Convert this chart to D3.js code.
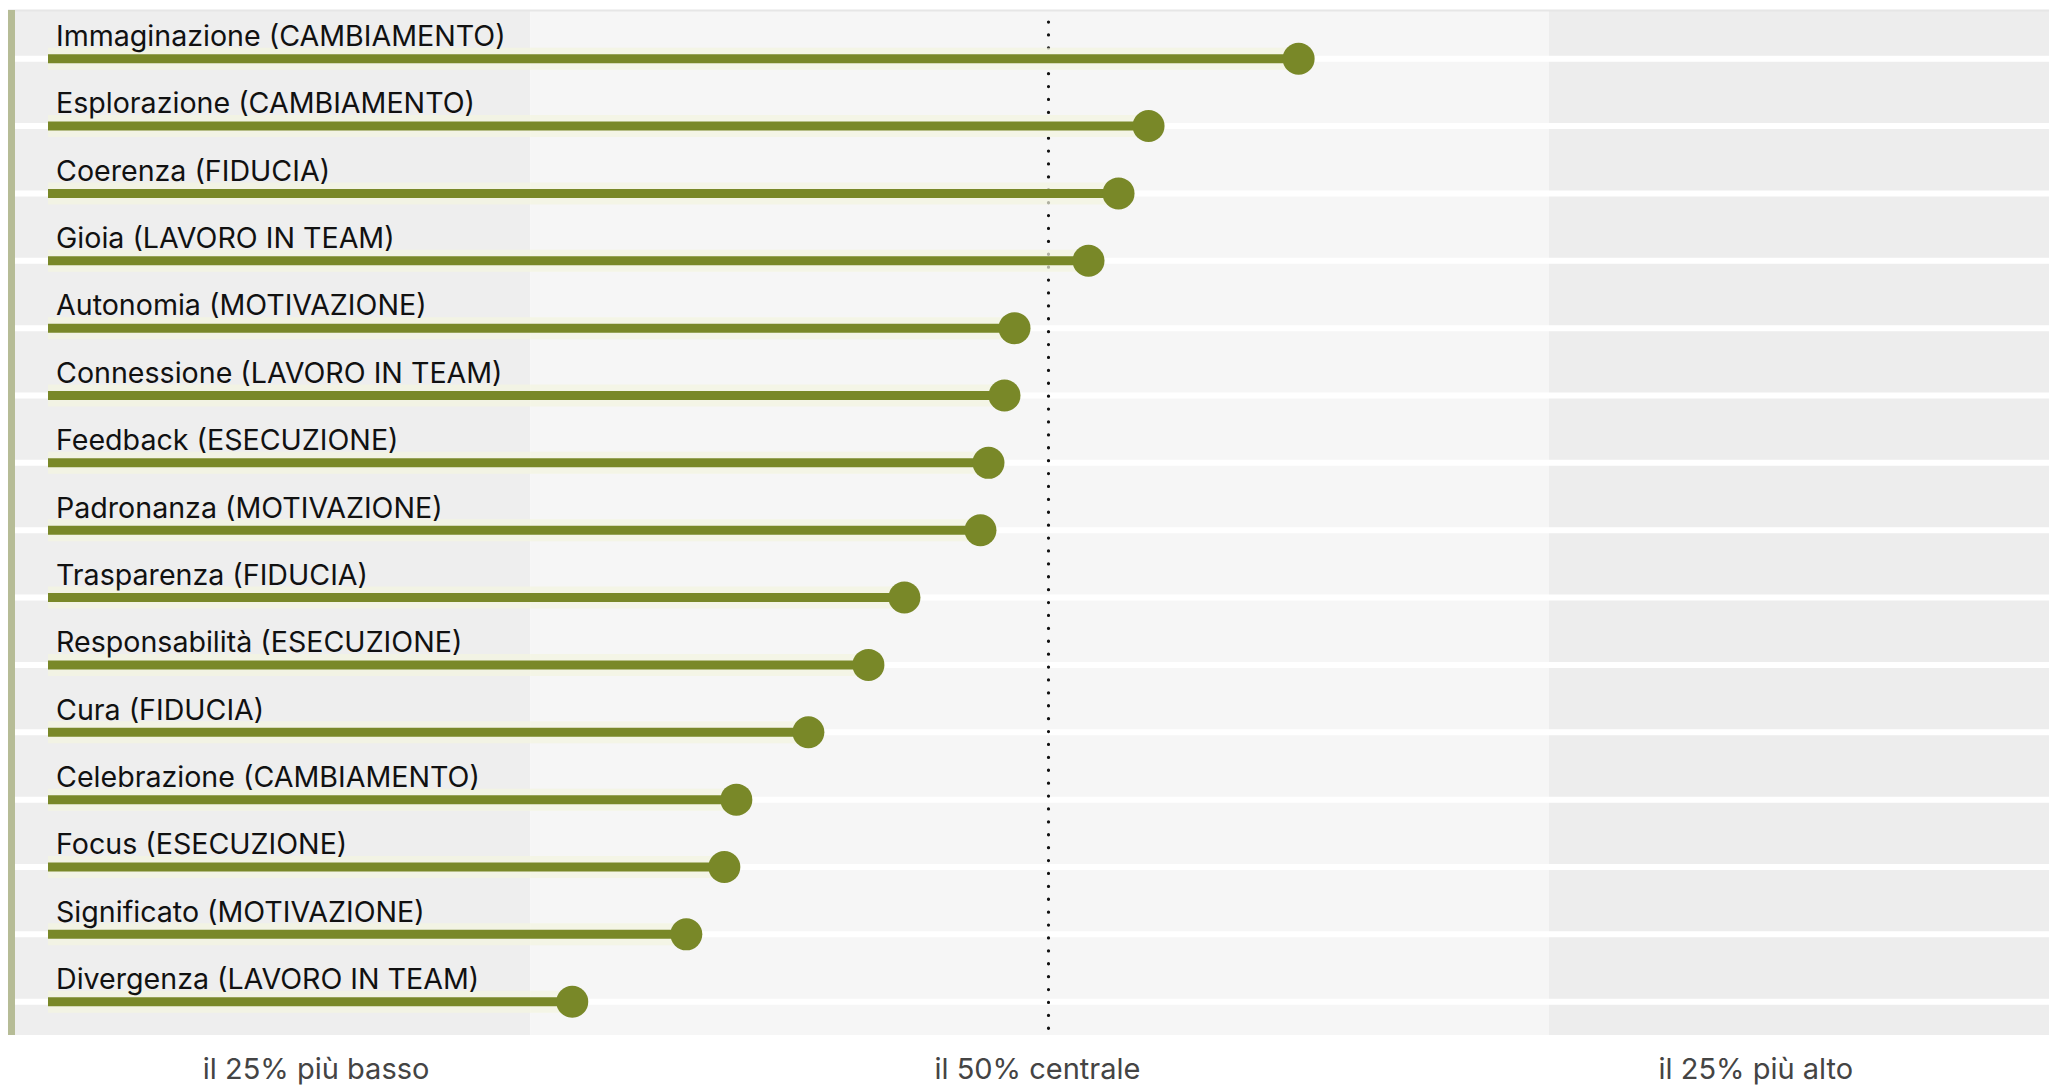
<!DOCTYPE html>
<html><head><meta charset="utf-8">
<script src="https://cdn.jsdelivr.net/npm/d3@7"></script>
<style>html,body{margin:0;padding:0;background:#fff;overflow:hidden}</style>
</head><body>
<svg id="chart" width="2049" height="1087"></svg>
<script>
// ---- data ----
const categories = [
  "Immaginazione (CAMBIAMENTO)",
  "Esplorazione (CAMBIAMENTO)",
  "Coerenza (FIDUCIA)",
  "Gioia (LAVORO IN TEAM)",
  "Autonomia (MOTIVAZIONE)",
  "Connessione (LAVORO IN TEAM)",
  "Feedback (ESECUZIONE)",
  "Padronanza (MOTIVAZIONE)",
  "Trasparenza (FIDUCIA)",
  "Responsabilità (ESECUZIONE)",
  "Cura (FIDUCIA)",
  "Celebrazione (CAMBIAMENTO)",
  "Focus (ESECUZIONE)",
  "Significato (MOTIVAZIONE)",
  "Divergenza (LAVORO IN TEAM)"
];
const values = [62.5, 55.0, 53.5, 52.0, 48.3, 47.8, 47.0, 46.6, 42.8, 41.0, 38.0, 34.4, 33.8, 31.9, 26.2];
const zoneBreaks = [24.1, 75];
const referenceValue = 50;
const zoneLabels = ["il 25% più basso", "il 50% centrale", "il 25% più alto"];
const zoneLabelPositions = [13.4, 49.45, 85.35];

// ---- layout ----
const W = 2049, H = 1087;
const panel = {left: 8, top: 10, bottom: 1035, right: W};
const svg = d3.select("#chart");
const x = d3.scaleLinear().domain([0, 100]).range([48, 2049]);
const y = d3.scalePoint().domain(categories).range([58.7, 1001.7]);
const olive = "#798828";
const font = "Inter, 'Open Sans', sans-serif";

// zones background
const zoneEdges = [panel.left + 7, x(zoneBreaks[0]), x(zoneBreaks[1]), panel.right];
const zoneFills = ["#eeeeee", "#f6f6f6", "#ededed"];
svg.append("g").selectAll("rect").data(zoneFills).join("rect")
  .attr("x", (d, i) => zoneEdges[i])
  .attr("width", (d, i) => zoneEdges[i + 1] - zoneEdges[i])
  .attr("y", panel.top).attr("height", panel.bottom - panel.top)
  .attr("fill", d => d);
// faint top border
svg.append("line").attr("x1", panel.left).attr("x2", panel.right)
  .attr("y1", panel.top + 0.5).attr("y2", panel.top + 0.5)
  .attr("stroke", "#e6e6e6").attr("stroke-width", 2);

// left accent bar
svg.append("rect").attr("x", panel.left).attr("width", 7)
  .attr("y", panel.top).attr("height", panel.bottom - panel.top)
  .attr("fill", "#b6bc96");

// white gridlines
svg.append("g").selectAll("line").data(categories).join("line")
  .attr("x1", panel.left + 7).attr("x2", panel.right)
  .attr("y1", d => y(d)).attr("y2", d => y(d))
  .attr("stroke", "#ffffff").attr("stroke-width", 6);

// reference dotted line
svg.append("line")
  .attr("x1", x(referenceValue)).attr("x2", x(referenceValue))
  .attr("y1", 22).attr("y2", 1030)
  .attr("stroke", "#111").attr("stroke-width", 3.2)
  .attr("stroke-linecap", "round").attr("stroke-dasharray", "0.1 12.8");

const rows = svg.append("g").selectAll("g").data(categories).join("g");
// halo
rows.append("line")
  .attr("x1", x(0)).attr("x2", (d, i) => x(values[i]))
  .attr("y1", d => y(d)).attr("y2", d => y(d))
  .attr("stroke", "#f3f5df").attr("stroke-opacity", 0.7).attr("stroke-width", 22);
// bar
rows.append("line")
  .attr("x1", x(0)).attr("x2", (d, i) => x(values[i]))
  .attr("y1", d => y(d)).attr("y2", d => y(d))
  .attr("stroke", olive).attr("stroke-width", 9);
// dot
rows.append("circle")
  .attr("cx", (d, i) => x(values[i])).attr("cy", d => y(d)).attr("r", 16)
  .attr("fill", olive);
// label
rows.append("text")
  .attr("x", 56).attr("y", d => y(d) - 12.7)
  .attr("font-family", font).attr("font-size", 28.6).attr("fill", "#111")
  .text(d => d);

// zone labels
svg.append("g").selectAll("text").data(zoneLabels).join("text")
  .attr("x", (d, i) => x(zoneLabelPositions[i])).attr("y", 1079)
  .attr("text-anchor", "middle")
  .attr("font-family", font).attr("font-size", 29).attr("fill", "#444")
  .text(d => d);
</script>
</body></html>
